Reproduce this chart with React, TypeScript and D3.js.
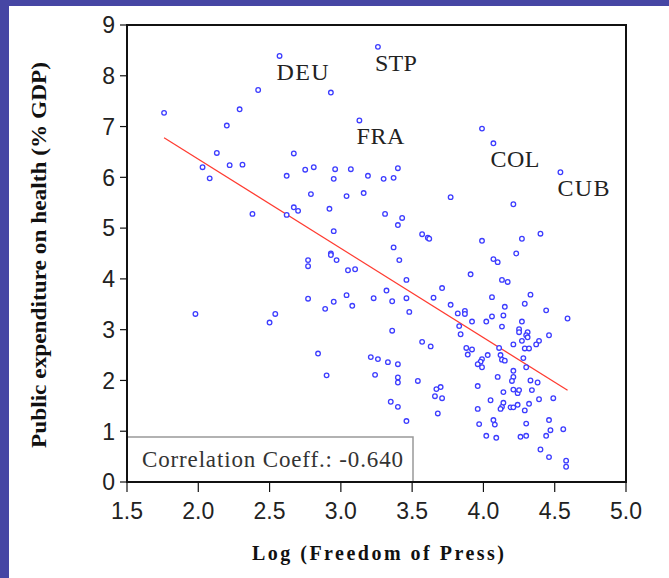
import React from 'react';
import * as d3 from 'd3';

const xTicks = [1.5, 2.0, 2.5, 3.0, 3.5, 4.0, 4.5, 5.0];
const yTicks = [0, 1, 2, 3, 4, 5, 6, 7, 8, 9];

// [log(freedom of press), public health expenditure % GDP]
const points: [number, number][] = [
  [2.57,8.39],[2.42,7.72],[2.93,7.67],[1.76,7.27],[2.29,7.34],[2.20,7.02],[2.13,6.48],[2.67,6.47],[2.03,6.20],[2.22,6.24],
  [2.31,6.25],[2.08,5.98],[2.62,6.03],[2.75,6.15],[2.81,6.20],[2.96,6.16],[2.95,5.97],[2.79,5.67],[2.38,5.28],[2.62,5.26],
  [2.67,5.41],[2.70,5.34],[2.92,5.38],[2.95,4.94],[2.93,4.50],[2.93,4.47],[2.97,4.37],[2.77,4.37],[2.77,4.25],[2.77,3.61],
  [2.89,3.41],[2.95,3.55],[1.98,3.31],[2.54,3.31],[2.50,3.14],[2.84,2.53],[2.90,2.10],
  [3.13,7.12],[3.26,8.57],[3.07,6.16],[3.19,6.03],[3.30,5.97],[3.37,5.99],[3.40,6.18],[3.04,5.63],[3.16,5.69],[3.77,5.61],
  [3.31,5.28],[3.43,5.20],[3.40,5.06],[3.57,4.88],[3.61,4.81],[3.62,4.79],[3.37,4.62],[3.41,4.37],[3.05,4.17],[3.10,4.19],
  [3.46,3.98],[3.91,4.09],[3.71,3.82],[3.32,3.77],[3.04,3.68],[3.08,3.47],[3.23,3.62],[3.36,3.56],[3.46,3.62],[3.65,3.63],
  [3.77,3.49],[3.48,3.35],[3.87,3.37],[3.87,3.31],[3.82,3.32],[3.83,3.07],[3.84,2.91],[3.36,2.98],[3.57,2.76],[3.63,2.67],
  [3.88,2.64],[3.89,2.51],[3.21,2.46],[3.26,2.42],[3.33,2.36],[3.40,2.32],[3.24,2.11],[3.40,2.06],[3.40,1.96],[3.54,1.99],
  [3.70,1.87],[3.67,1.83],[3.66,1.69],[3.71,1.65],[3.35,1.58],[3.40,1.48],[3.68,1.35],[3.46,1.20],
  [3.99,6.96],[4.07,6.67],[4.54,6.10],[4.21,5.47],[3.99,4.75],[4.27,4.79],[4.40,4.89],[4.23,4.50],[4.07,4.39],[4.10,4.33],
  [4.13,3.98],[4.17,3.94],[4.33,3.69],[4.06,3.64],[4.15,3.45],[4.29,3.51],[4.44,3.38],[4.59,3.22],[3.92,3.16],[4.02,3.16],
  [4.06,3.26],[4.14,3.28],[4.13,3.06],[4.27,3.16],[4.25,3.01],[4.25,2.95],[4.31,2.95],[4.30,2.89],[4.31,2.85],[4.27,2.78],
  [4.46,2.89],[4.39,2.78],[4.37,2.71],[4.21,2.71],[3.92,2.61],[4.03,2.50],[3.99,2.42],[3.98,2.37],[3.96,2.32],[3.99,2.26],
  [4.11,2.64],[4.29,2.63],[4.32,2.63],[4.12,2.50],[4.13,2.41],[4.15,2.39],[4.28,2.44],[4.30,2.26],[4.21,2.19],[4.21,2.07],
  [4.20,1.99],[4.10,2.07],[4.33,2.00],[4.38,1.96],[3.96,1.89],[4.14,1.77],[4.21,1.82],[4.24,1.75],[4.25,1.81],[4.34,1.81],
  [4.05,1.61],[4.39,1.63],[4.49,1.65],[4.32,1.54],[4.14,1.56],[4.13,1.48],[4.12,1.44],[4.19,1.47],[4.21,1.47],[4.24,1.52],
  [4.29,1.41],[3.96,1.44],[3.97,1.14],[4.07,1.22],[4.08,1.13],[4.30,1.15],[4.46,1.22],[4.47,1.02],[4.56,1.04],[4.02,0.91],
  [4.09,0.87],[4.26,0.89],[4.30,0.91],[4.44,0.91],[4.40,0.64],[4.46,0.49],[4.58,0.42],[4.58,0.30],
];

const labelNames = ['DEU', 'STP', 'FRA', 'COL', 'CUB'];
const labelPoints: [number, number][] = [[2.57, 8.39], [3.26, 8.57], [3.13, 7.12], [4.07, 6.67], [4.54, 6.10]];
const labelWidths = [52, 42, 48, 49, 52];

const corrText = 'Correlation Coeff.: -0.640';
const yTitle = 'Public expenditure on health (% GDP)';
const xTitle = 'Log (Freedom of Press)';

export default function App() {
  const W = 669, H = 578;
  const L = 127, R = 626, T = 25, B = 482;
  const x = d3.scaleLinear().domain([1.5, 5]).range([L, R]);
  const y = d3.scaleLinear().domain([0, 9]).range([B, T]);

  const mx = d3.mean(points, d => d[0]) as number;
  const my = d3.mean(points, d => d[1]) as number;
  let sxy = 0, sxx = 0;
  points.forEach(([a, b]) => { sxy += (a - mx) * (b - my); sxx += (a - mx) * (a - mx); });
  const slope = sxy / sxx;
  const icpt = my - slope * mx;
  const [xmin, xmax] = d3.extent(points, d => d[0]) as [number, number];
  const line = d3.line<number>().x(v => x(v)).y(v => y(icpt + slope * v));

  const sans = 'Liberation Sans, Arial, sans-serif';
  const serif = 'Liberation Serif, Times New Roman, serif';

  return (
    <svg width={W} height={H} style={{ position: 'absolute', left: 0, top: 0, display: 'block' }}>
      <rect x={0} y={0} width={W} height={H} fill="#4646a4" />
      <rect x={9} y={6} width={W - 9} height={H - 6} fill="#ffffff" />

      {/* correlation box */}
      <rect x={L} y={437} width={413 - L} height={B - 437} fill="#fff" stroke="#999" strokeWidth={1.5} />
      <text x={142} y={467} fontFamily={serif} fontSize={23} fill="#333" textLength={261} lengthAdjust="spacing">{corrText}</text>

      {/* regression line */}
      <path d={line([xmin, xmax]) || ''} stroke="#ff3b30" strokeWidth={1.2} fill="none" />

      {/* points */}
      {points.map((p, i) => (
        <circle key={i} cx={x(p[0])} cy={y(p[1])} r={2.3} fill="#fff" stroke="#3c3cff" strokeWidth={1.3} />
      ))}

      {/* labels */}
      {labelNames.map((n, i) => (
        <text key={n} x={x(labelPoints[i][0]) - 3} y={y(labelPoints[i][1]) + 24} fontFamily={serif} fontSize={24}
          fill="#222" textLength={labelWidths[i]} lengthAdjust="spacing">{n}</text>
      ))}

      {/* frame */}
      <rect x={L} y={T} width={R - L} height={B - T} fill="none" stroke="#111" strokeWidth={2} />

      {/* y axis */}
      {yTicks.map(t => (
        <g key={t}>
          <line x1={L - 7} x2={L} y1={y(t)} y2={y(t)} stroke="#111" strokeWidth={1.2} />
          <text x={L - 12} y={y(t)} dy="0.36em" textAnchor="end" fontFamily={sans} fontSize={23} fill="#222">{t}</text>
        </g>
      ))}
      {/* x axis */}
      {xTicks.map(t => (
        <g key={t}>
          <line x1={x(t)} x2={x(t)} y1={B} y2={B + 10} stroke="#111" strokeWidth={1.2} />
          <text x={x(t)} y={519} textAnchor="middle" fontFamily={sans} fontSize={23} fill="#222">{t.toFixed(1)}</text>
        </g>
      ))}

      <text transform={`translate(46,${255}) rotate(-90)`} textAnchor="middle" fontFamily={serif} fontWeight="bold"
        fontSize={20} fill="#111" textLength={386} lengthAdjust="spacingAndGlyphs">{yTitle}</text>
      <text x={378} y={560} textAnchor="middle" fontFamily={serif} fontWeight="bold" fontSize={20} fill="#111"
        textLength={252} lengthAdjust="spacing">{xTitle}</text>
    </svg>
  );
}
